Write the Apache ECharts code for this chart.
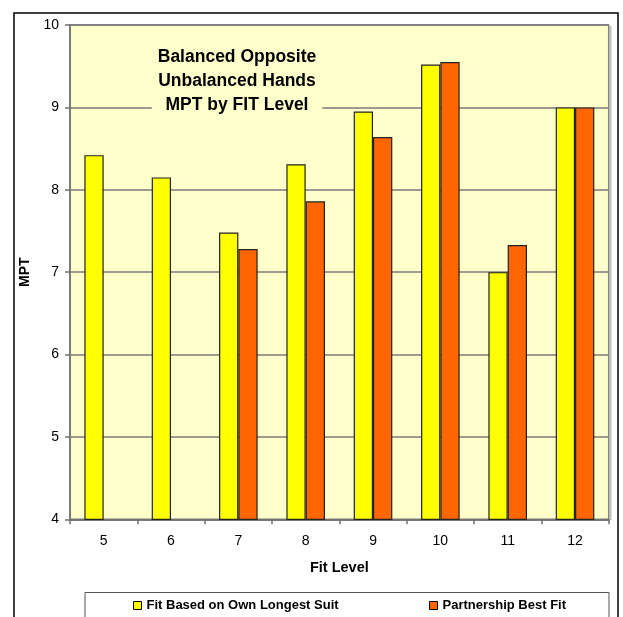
<!DOCTYPE html>
<html>
<head>
<meta charset="utf-8">
<script src="https://cdn.jsdelivr.net/npm/echarts@6/dist/echarts.min.js"></script>
<style>
html,body{margin:0;padding:0;background:#fff;}
#chart{width:623px;height:617px;}
</style>
</head>
<body>
<div id="chart"></div>
<script>
const categories = ['5', '6', '7', '8', '9', '10', '11', '12'];
const ownLongestSuit = [8.42, 8.15, 7.48, 8.31, 8.95, 9.52, 7.00, 9.00];
const partnershipBestFit = [null, null, 7.28, 7.86, 8.64, 9.55, 7.33, 9.00];
const seriesNames = ['Fit Based on Own Longest Suit', 'Partnership Best Fit'];
const titleLines = ['Balanced Opposite', 'Unbalanced Hands', 'MPT by FIT Level'];

const FONT = 'Arial, "Liberation Sans", sans-serif';
const chart = echarts.init(document.getElementById('chart'), null, {renderer: 'canvas'});

chart.setOption({
  animation: false,
  backgroundColor: '#ffffff',
  textStyle: {fontFamily: FONT},
  title: {
    text: titleLines.join('\n'),
    left: 231,
    textAlign: 'center',
    top: 41,
    padding: [4, 6],
    backgroundColor: '#FFFFCC',
    textStyle: {fontFamily: FONT, fontSize: 17.5, fontWeight: 'bold', color: '#000', lineHeight: 24}
  },
  grid: {
    left: 70, top: 25, right: 14.3, bottom: 97.7,
    show: true, backgroundColor: '#FFFFCC', borderColor: '#808080', borderWidth: 1.5
  },
  legend: [
    {
      data: [seriesNames[0]], left: 133, top: 599, padding: 0,
      itemWidth: 8, itemHeight: 8, icon: 'rect',
      itemStyle: {borderColor: '#000', borderWidth: 1},
      textStyle: {fontFamily: FONT, fontSize: 13, fontWeight: 'bold', color: '#000'}
    },
    {
      data: [seriesNames[1]], left: 429, top: 599, padding: 0,
      itemWidth: 8, itemHeight: 8, icon: 'rect',
      itemStyle: {borderColor: '#000', borderWidth: 1},
      textStyle: {fontFamily: FONT, fontSize: 13, fontWeight: 'bold', color: '#000'}
    }
  ],
  xAxis: {
    type: 'category',
    data: categories,
    name: 'Fit Level',
    nameLocation: 'middle',
    nameGap: 41,
    nameTextStyle: {fontFamily: FONT, fontSize: 14.5, fontWeight: 'bold', color: '#000'},
    axisLine: {lineStyle: {color: '#707070', width: 1.5}},
    axisTick: {show: true, alignWithLabel: false, length: 5, lineStyle: {color: '#707070', width: 1.5}},
    axisLabel: {fontFamily: FONT, fontSize: 14, color: '#000', margin: 15},
    splitLine: {show: false}
  },
  yAxis: {
    type: 'value',
    min: 4, max: 10, interval: 1,
    name: 'MPT',
    nameLocation: 'middle',
    nameGap: 33,
    nameTextStyle: {fontFamily: FONT, fontSize: 14, fontWeight: 'bold', color: '#000'},
    axisLine: {show: true, lineStyle: {color: '#707070', width: 1.5}},
    axisTick: {show: true, length: 5, lineStyle: {color: '#707070', width: 1.5}},
    axisLabel: {fontFamily: FONT, fontSize: 14, color: '#000', margin: 11},
    splitLine: {show: true, lineStyle: {color: '#7a7a7a', width: 1.5}}
  },
  series: [
    {
      name: seriesNames[0], type: 'bar', data: ownLongestSuit,
      barWidth: 19.3, barGap: '0%',
      itemStyle: {color: '#FFFF00', borderColor: '#222', borderWidth: 1.2}
    },
    {
      name: seriesNames[1], type: 'bar', data: partnershipBestFit,
      barWidth: 19.3, barGap: '0%',
      itemStyle: {color: '#FF6600', borderColor: '#222', borderWidth: 1.2}
    }
  ],
  graphic: [
    {type: 'rect', silent: true, z: -10, shape: {x: 14, y: 13, width: 604, height: 640},
     style: {fill: null, stroke: '#000', lineWidth: 1.5}},
    {type: 'line', silent: true, shape: {x1: 610.5, y1: 26, x2: 610.5, y2: 520},
     style: {stroke: '#bdbdbd', lineWidth: 2}},
    {type: 'rect', silent: true, shape: {x: 85, y: 592.5, width: 524, height: 40},
     style: {fill: null, stroke: '#555', lineWidth: 1}}
  ]
});
</script>
</body>
</html>
